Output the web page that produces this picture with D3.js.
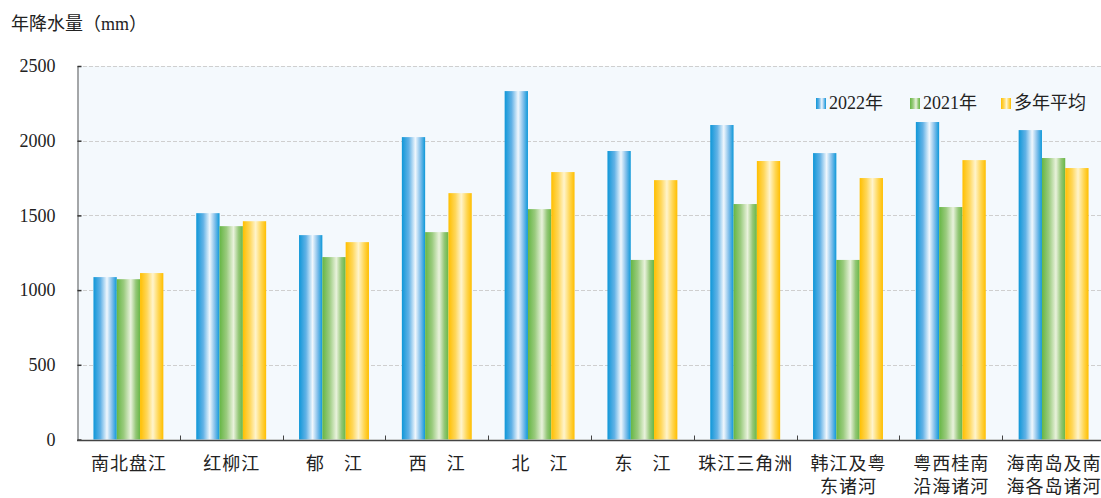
<!DOCTYPE html>
<html>
<head>
<meta charset="utf-8">
<script src="https://cdn.jsdelivr.net/npm/d3@7"></script>
<style>
  html, body { margin: 0; padding: 0; background: #ffffff; }
  svg { display: block; }
  text { font-family: "Liberation Serif", "Times New Roman", "Noto Sans CJK SC", serif; fill: #222; }
</style>
</head>
<body>
<script>
// Basin names (line breaks marked with "\n")
const categories = [
  "南北盘江", "红柳江", "郁　江", "西　江", "北　江", "东　江",
  "珠江三角洲", "韩江及粤\n东诸河", "粤西桂南\n沿海诸河", "海南岛及南\n海各岛诸河"
];
const seriesNames = ["2022年", "2021年", "多年平均"];
// Annual precipitation (mm)
const values2022 = [1087, 1515, 1368, 2024, 2332, 1931, 2105, 1917, 2125, 2071];
const values2021 = [1073, 1428, 1221, 1388, 1542, 1202, 1576, 1202, 1556, 1884];
const valuesAvg  = [1114, 1461, 1321, 1649, 1790, 1736, 1864, 1750, 1870, 1817];
const yTicks = [0, 500, 1000, 1500, 2000, 2500];
const yTitle = "年降水量（mm）";

const seriesValues = [values2022, values2021, valuesAvg];

const W = 1101, H = 498;
const margin = { left: 77, right: -4, top: 66, bottom: 58.5 };
const x0 = margin.left, x1 = W - margin.right;
const yTop = margin.top, yBot = H - margin.bottom;

const svg = d3.select("body").append("svg").attr("width", W).attr("height", H);

// Gradients: dark edges with a pale highlight a little right of centre
const defs = svg.append("defs");
const grads = [
  { id: "g2022", stops: [[0, "#0f97d8"], [0.3, "#62b2e6"], [0.58, "#f0f7fd"], [0.8, "#7fbeea"], [1, "#0d98d9"]] },
  { id: "g2021", stops: [[0, "#66b644"], [0.3, "#9acb7e"], [0.6, "#e9f2dc"], [0.82, "#94c777"], [1, "#68b746"]] },
  { id: "gavg",  stops: [[0, "#ffbf00"], [0.3, "#ffd75a"], [0.55, "#fff4cc"], [0.8, "#ffd54f"], [1, "#ffbe00"]] }
];
grads.forEach(g => {
  const lg = defs.append("linearGradient").attr("id", g.id)
    .attr("x1", "0%").attr("x2", "100%").attr("y1", "0%").attr("y2", "0%");
  g.stops.forEach(s => lg.append("stop").attr("offset", s[0]).attr("stop-color", s[1]));
});
const fills = grads.map(g => `url(#${g.id})`);

// Scales
const x = d3.scaleBand().domain(d3.range(categories.length))
  .range([x0, x1]).paddingInner(0.32).paddingOuter(0.16);
const xs = d3.scaleBand().domain(d3.range(seriesNames.length)).range([0, x.bandwidth()]);
const y = d3.scaleLinear().domain([0, 2500]).range([yBot, yTop]);

// Plot background
svg.append("rect").attr("x", x0).attr("y", yTop)
  .attr("width", x1 - x0).attr("height", yBot - yTop).attr("fill", "#f4f9fd");

// Horizontal dashed grid lines
svg.append("g").selectAll("line").data(yTicks.filter(d => d > 0)).join("line")
  .attr("x1", x0).attr("x2", x1)
  .attr("y1", d => Math.round(y(d)) + 0.5).attr("y2", d => Math.round(y(d)) + 0.5)
  .attr("stroke", "#cfcfcf").attr("stroke-width", 1).attr("stroke-dasharray", "4,2");

// Bars
const groups = svg.append("g").selectAll("g").data(categories).join("g")
  .attr("transform", (d, i) => `translate(${x(i)},0)`);
groups.selectAll("rect")
  .data((d, i) => seriesValues.map((vals, s) => ({ s, v: vals[i] })))
  .join("rect")
  .attr("x", d => xs(d.s))
  .attr("width", xs.bandwidth())
  .attr("y", d => y(d.v))
  .attr("height", d => y(0) - y(d.v))
  .attr("fill", d => fills[d.s]);

// Y axis with inward ticks
const yAxis = d3.axisLeft(y).tickValues(yTicks).tickFormat(d3.format("d"))
  .tickSizeInner(-4).tickSizeOuter(0).tickPadding(22);
const gy = svg.append("g").attr("transform", `translate(${x0 + 0.5},0)`).call(yAxis);
gy.select(".domain").attr("stroke", "#555");
gy.selectAll(".tick line").attr("stroke", "#333").attr("stroke-width", 1.5);
gy.selectAll(".tick text").attr("font-size", 18).attr("fill", "#222")
  .style("font-family", "'Liberation Serif', 'Times New Roman', serif");

// X axis line and boundary ticks pointing up
const gx = svg.append("g");
const yb = Math.round(yBot) + 0.5;
gx.append("line").attr("x1", x0).attr("x2", x1).attr("y1", yb).attr("y2", yb)
  .attr("stroke", "#444").attr("stroke-width", 1.5);
const bounds = d3.range(1, categories.length).map(i => x(i) - x.step() * x.paddingOuter());
gx.selectAll("line.tk").data(bounds).join("line").attr("class", "tk")
  .attr("x1", d => Math.round(d) + 0.5).attr("x2", d => Math.round(d) + 0.5)
  .attr("y1", yb).attr("y2", yb - 5).attr("stroke", "#444").attr("stroke-width", 1);

// Category labels
const labels = svg.append("g").selectAll("text").data(categories).join("text")
  .attr("text-anchor", "middle")
  .attr("font-size", 18)
  .attr("letter-spacing", 1)
  .attr("transform", (d, i) => `translate(${x(i) + x.bandwidth() / 2 + 0.5},470)`);
labels.selectAll("tspan").data(d => d.split("\n")).join("tspan")
  .attr("x", 0).attr("dy", (d, i) => i === 0 ? 0 : 23).text(d => d);

// Y title
svg.append("text").attr("x", 11).attr("y", 30).attr("font-size", 18).text(yTitle);

// Legend
const legendX = [816, 910, 1001];
const lg = svg.append("g").selectAll("g").data(seriesNames).join("g")
  .attr("transform", (d, i) => `translate(${legendX[i]},98)`);
lg.append("rect").attr("width", 10).attr("height", 11).attr("fill", (d, i) => fills[i]);
lg.append("text").attr("x", 13).attr("y", 10.5).attr("font-size", 18).text(d => d);
</script>
</body>
</html>
